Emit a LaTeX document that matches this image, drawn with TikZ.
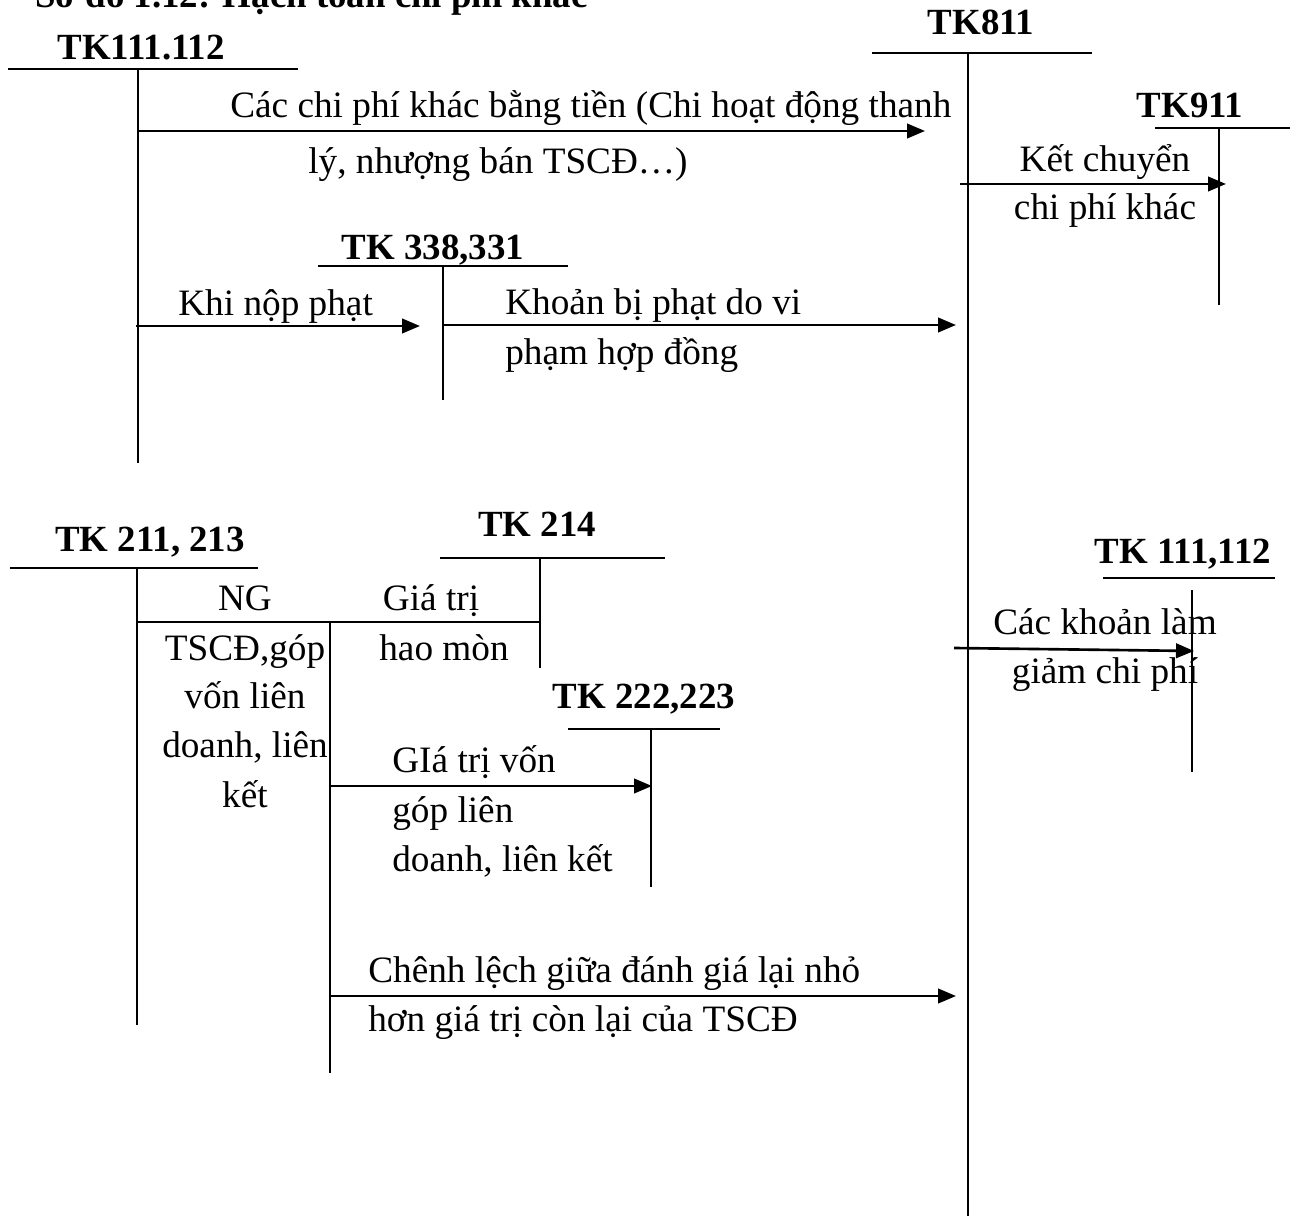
\documentclass[tikz,border=0pt]{standalone}
\usepackage{fontspec}
\setmainfont{Liberation Serif}
\usetikzlibrary{positioning,arrows.meta}
\tikzset{
  acc/.style={line width=1.1pt},
  flow/.style={-{Triangle[length=3.6mm,width=2.9mm]},line width=1.5pt},
  tk/.style={font=\fontsize{21}{25}\selectfont\bfseries,inner sep=0pt,anchor=base},
  lbl/.style={font=\fontsize{21.2}{25}\selectfont,inner sep=0pt,anchor=base},
  lbll/.style={lbl,anchor=base west},
}

\begin{document}
\begin{tikzpicture}[x=0.02cm,y=-0.02cm]
  \useasboundingbox (0,0) rectangle (1295,1216);
  % --- title (cut at the top of the page) ---
  \node[tk,anchor=base west] (title) at (35,8) {Sơ đồ 1.12: Hạch toán chi phí khác};
  % --- TK111.112 (top left) ---
  \node[tk] (tkA) at (141,60) {TK111.112};
  \draw[acc] (8,69) -- (298,69);
  \draw[acc] (138,69) -- (138,463);
  % --- TK811 ---
  \node[tk] (tkB) at (981,35) {TK811};
  \draw[acc] (872,53) -- (1092,53);
  \draw[acc] (968,53) -- (968,1216);
  % --- TK911 ---
  \node[tk] (tkC) at (1190,118) {TK911};
  \draw[acc] (1155,128) -- (1290,128);
  \draw[acc] (1219,128) -- (1219,305);
  % --- TK 338,331 ---
  \node[tk] (tkD) at (433,260) {TK 338,331};
  \draw[acc] (318,266) -- (568,266);
  \draw[acc] (443,266) -- (443,400);
  % --- TK 211, 213 ---
  \node[tk] (tkE) at (150,551) {TK 211, 213};
  \draw[acc] (10,568) -- (258,568);
  \draw[acc] (137,568) -- (137,1025);
  % --- TK 214 ---
  \node[tk] (tkF) at (537,536) {TK 214};
  \draw[acc] (440,558) -- (665,558);
  \draw[acc] (540,558) -- (540,668);
  % --- TK 222,223 ---
  \node[tk] (tkG) at (644,708) {TK 222,223};
  \draw[acc] (568,729) -- (720,729);
  \draw[acc] (651,729) -- (651,887);
  % --- TK 111,112 (right) ---
  \node[tk] (tkH) at (1183,563) {TK 111,112};
  \draw[acc] (1103,578) -- (1275,578);
  \draw[acc] (1192,590) -- (1192,772);
  % --- branch line under TK 211, 213 ---
  \draw[acc] (330,622) -- (330,1073);

  % arrow end points
  \coordinate (cashS) at (138,131);  \coordinate (cashE) at (925,131);
  \coordinate (closeS) at (960,184); \coordinate (closeE) at (1226,184);
  \coordinate (payS) at (136,326);   \coordinate (payE) at (420,326);
  \coordinate (fineS) at (443,325);  \coordinate (fineE) at (956,325);
  \coordinate (ngS) at (137,622);    \coordinate (ngE) at (540,622);
  \coordinate (capS) at (330,786);   \coordinate (capE) at (652,786);
  \coordinate (diffS) at (330,996);  \coordinate (diffE) at (956,996);
  \coordinate (redS) at (954,648);   \coordinate (redE) at (1194,651);

  % --- connectors ---
  \draw[flow] (cashS) -- (cashE);
  \draw[flow] (closeS) -- (closeE);
  \draw[flow] (payS) -- (payE);
  \draw[flow] (fineS) -- (fineE);
  \draw[acc] (ngS) -- (ngE);
  \draw[flow] (capS) -- (capE);
  \draw[flow] (diffS) -- (diffE);
  \draw[flow] (redS) -- (redE);

  % --- labels ---
  \node[lbll] (cash1) at (230,118) {Các chi phí khác bằng tiền (Chi hoạt động thanh};
  \node[lbll] (cash2) at (308,174) {lý, nhượng bán TSCĐ…)};
  \node[lbl] (close1) at (1105,172) {Kết chuyển};
  \node[lbl] (close2) at (1105,220) {chi phí khác};
  \node[lbll] (pay1) at (178,316) {Khi nộp phạt};
  \node[lbll] (fine1) at (505,315) {Khoản bị phạt do vi};
  \node[lbll] (fine2) at (505,365) {phạm hợp đồng};
  \node[lbl] (ng1) at (245,610) {NG};
  \node[lbl] (ng2) at (245,660) {TSCĐ,góp};
  \node[lbl] (ng3) at (245,708) {vốn liên};
  \node[lbl] (ng4) at (245,757) {doanh, liên};
  \node[lbl] (ng5) at (245,807) {kết};
  \node[lbl] (dep1) at (431,610) {Giá trị};
  \node[lbl] (dep2) at (444,660) {hao mòn};
  \node[lbll] (cap1) at (392,772) {GIá trị vốn};
  \node[lbll] (cap2) at (392,822) {góp liên};
  \node[lbll] (cap3) at (392,871) {doanh, liên kết};
  \node[lbll] (diff1) at (368,982) {Chênh lệch giữa đánh giá lại nhỏ};
  \node[lbll] (diff2) at (368,1031) {hơn giá trị còn lại của TSCĐ};
  \node[lbl] (red1) at (1105,634) {Các khoản làm};
  \node[lbl] (red2) at (1105,683) {giảm chi phí};
\end{tikzpicture}
\end{document}
